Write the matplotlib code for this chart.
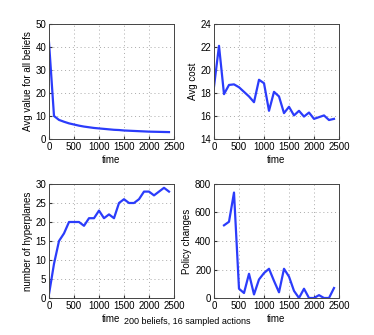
import numpy as np
import matplotlib
matplotlib.use('Agg')
import matplotlib.pyplot as plt

time = list(range(0, 2500, 100))

avg_value = [42, 10, 8.3, 7.5, 6.8, 6.3, 5.8, 5.4, 5.1, 4.8, 4.6, 4.4, 4.2,
             4.0, 3.9, 3.7, 3.6, 3.5, 3.4, 3.3, 3.2, 3.15, 3.1, 3.05, 3.0]
avg_cost = [18.55, 22.1, 17.9, 18.7, 18.75, 18.5, 18.1, 17.7, 17.2, 19.15,
            18.85, 16.45, 18.1, 17.7, 16.25, 16.8, 16.05, 16.45, 15.95, 16.3,
            15.75, 15.9, 16.05, 15.65, 15.75]
hyperplanes = [1, 9, 15, 17, 20, 20, 20, 19, 21, 21, 23, 21, 22, 21, 25, 26,
               25, 25, 26, 28, 28, 27, 28, 29, 28]
policy_changes = [np.nan, np.nan, 510, 535, 740, 65, 35, 170, 25, 130, 175,
                  205, 120, 40, 205, 150, 50, 0, 65, 0, 0, 20, 0, 0, 70]

plt.rcParams['font.family'] = ['Liberation Sans', 'DejaVu Sans']
plt.rcParams['font.size'] = 7

fig = plt.figure(figsize=(3.74, 3.35), dpi=100)
W, H = 374.0, 335.0

def make_axes(left, top, right, bottom):
    return fig.add_axes([left / W, 1 - bottom / H, (right - left) / W, (bottom - top) / H])

panels = [
    (make_axes(49, 24, 174, 139), avg_value, 'Avg value for all beliefs', (0, 50), [0, 10, 20, 30, 40, 50]),
    (make_axes(214, 24, 339, 139), avg_cost, 'Avg cost', (14, 24), [14, 16, 18, 20, 22, 24]),
    (make_axes(49, 184, 174, 298), hyperplanes, 'number of hyperplanes', (0, 30), [0, 5, 10, 15, 20, 25, 30]),
    (make_axes(214, 184, 339, 298), policy_changes, 'Policy changes', (0, 800), [0, 200, 400, 600, 800]),
]

for ax, y, label, ylim, yticks in panels:
    ax.plot(time, y, color='#2b3cfb', linewidth=1.6)
    ax.set_xlim(0, 2500)
    ax.set_ylim(*ylim)
    ax.set_xticks([0, 500, 1000, 1500, 2000, 2500])
    ax.set_yticks(yticks)
    ax.set_xlabel('time', labelpad=2)
    ax.set_ylabel(label, labelpad=2)
    ax.grid(True, linestyle=(0, (1, 3)), color='#aaaaaa', linewidth=0.7)
    ax.tick_params(direction='in', length=2, pad=2, colors='#333333', labelcolor='black')
    for s in ax.spines.values():
        s.set_color('#444444')
        s.set_linewidth(0.7)

fig.text(187 / W, 1 - 322 / H, '200 beliefs, 16 sampled actions', ha='center', va='center', fontsize=6.5)

fig.savefig('out.png', dpi=100)
